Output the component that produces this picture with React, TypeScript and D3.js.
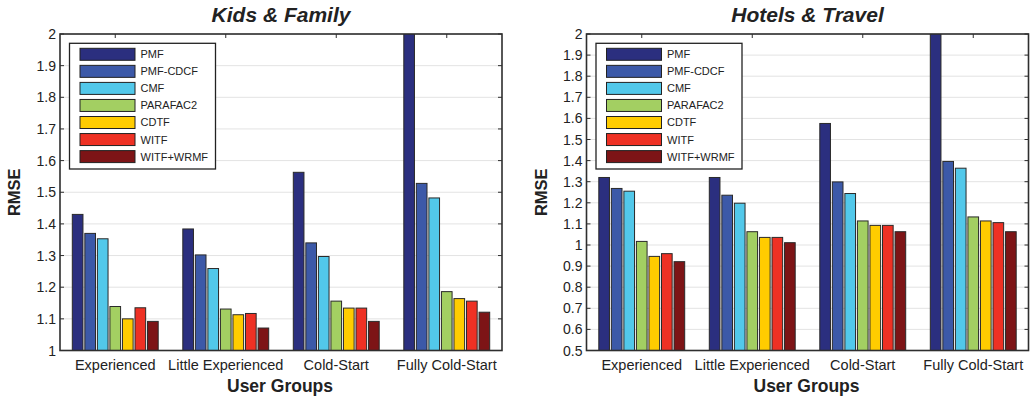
import React from "react";
import * as d3 from "d3";

const groups = ["Experienced", "Little Experienced", "Cold-Start", "Fully Cold-Start"];
const methods = ["PMF", "PMF-CDCF", "CMF", "PARAFAC2", "CDTF", "WITF", "WITF+WRMF"];
const methodColors = ["#2b2f7f", "#3c59a8", "#52c8ea", "#a3cf62", "#ffcc00", "#ee3124", "#7d1416"];

// Kids & Family (values per user group, in method order)
const kidsExperienced = [1.43, 1.37, 1.353, 1.139, 1.1, 1.135, 1.092];
const kidsLittleExperienced = [1.384, 1.302, 1.259, 1.131, 1.113, 1.117, 1.071];
const kidsColdStart = [1.563, 1.34, 1.297, 1.156, 1.134, 1.134, 1.092];
const kidsFullyColdStart = [2.2, 1.528, 1.482, 1.186, 1.164, 1.156, 1.121];

// Hotels & Travel
const hotelsExperienced = [1.32, 1.268, 1.255, 1.017, 0.946, 0.959, 0.921];
const hotelsLittleExperienced = [1.32, 1.236, 1.198, 1.063, 1.036, 1.036, 1.011];
const hotelsColdStart = [1.576, 1.299, 1.244, 1.114, 1.093, 1.093, 1.063];
const hotelsFullyColdStart = [2.2, 1.396, 1.364, 1.133, 1.114, 1.106, 1.063];

const kidsTicks = ["1", "1.1", "1.2", "1.3", "1.4", "1.5", "1.6", "1.7", "1.8", "1.9", "2"];
const hotelsTicks = ["0.5", "0.6", "0.7", "0.8", "0.9", "1", "1.1", "1.2", "1.3", "1.4", "1.5", "1.6", "1.7", "1.8", "1.9", "2"];

const FONT = "'Liberation Sans', Arial, Helvetica, sans-serif";

type ChartProps = {
  id: string;
  title: string;
  left: number;
  yMin: number;
  ticks: string[];
  data: number[][];
};

function Chart({ id, title, left, yMin, ticks, data }: ChartProps) {
  const top = 34;
  const bottom = 350.5;
  const width = 442;
  const right = left + width;
  const x0 = d3.scaleBand<string>().domain(groups).range([left, right]).paddingInner(0.2).paddingOuter(0.1);
  const x1 = d3.scaleBand<string>().domain(methods).range([0, x0.bandwidth()]).paddingInner(0.15).paddingOuter(0.1);
  const y = d3.scaleLinear().domain([yMin, 2]).range([bottom, top]);
  const cx = (left + right) / 2;
  const legX = left + 9.5;
  const legY = 43.3;
  const legW = 146;
  const legH = 125.7;
  const rowH = 17.05;
  return (
    <g>
      <defs>
        <clipPath id={id}>
          <rect x={left} y={top} width={width} height={bottom - top} />
        </clipPath>
      </defs>
      <rect x={left} y={top} width={width} height={bottom - top} fill="#fff" />
      {ticks.map((t) => (
        <line key={"g" + t} x1={left} x2={right} y1={y(+t)} y2={y(+t)} stroke="#e3e3e3" strokeWidth={1} />
      ))}
      <g clipPath={`url(#${id})`}>
        {groups.map((g, gi) =>
          methods.map((m, mi) => (
            <rect
              key={g + m}
              x={(x0(g) as number) + (x1(m) as number)}
              y={y(data[gi][mi])}
              width={x1.bandwidth()}
              height={y(yMin) - y(data[gi][mi]) + 2}
              fill={methodColors[mi]}
              stroke="#2a2a2a"
              strokeWidth={1}
            />
          ))
        )}
      </g>
      {/* frame */}
      <rect x={left} y={top} width={width} height={bottom - top} fill="none" stroke="#2e2e2e" strokeWidth={1.6} />
      {/* y ticks */}
      {ticks.map((t) => (
        <g key={"t" + t}>
          <line x1={left} x2={left + 4} y1={y(+t)} y2={y(+t)} stroke="#2e2e2e" strokeWidth={1} />
          <line x1={right - 4} x2={right} y1={y(+t)} y2={y(+t)} stroke="#2e2e2e" strokeWidth={1} />
          <text x={left - 4} y={y(+t)} dy="0.36em" textAnchor="end" fontFamily={FONT} fontSize={14} fill="#222">
            {t}
          </text>
        </g>
      ))}
      {/* x ticks */}
      {groups.map((g) => {
        const gx = (x0(g) as number) + x0.bandwidth() / 2;
        return (
          <g key={"x" + g}>
            <line x1={gx} x2={gx} y1={top} y2={top + 4} stroke="#2e2e2e" strokeWidth={1} />
            <text x={gx} y={369.5} textAnchor="middle" fontFamily={FONT} fontSize={14.5} fill="#222">
              {g}
            </text>
          </g>
        );
      })}
      {/* legend */}
      <rect x={legX} y={legY} width={legW} height={legH} fill="#fff" stroke="#222" strokeWidth={1.3} />
      {methods.map((m, i) => {
        const cy = legY + 11 + i * rowH;
        return (
          <g key={"l" + m}>
            <rect x={legX + 10.5} y={cy - 6} width={55} height={12} fill={methodColors[i]} stroke="#222" strokeWidth={1} />
            <text x={legX + 71} y={cy} dy="0.36em" fontFamily={FONT} fontSize={11} fill="#222">
              {m}
            </text>
          </g>
        );
      })}
      {/* titles */}
      <text x={cx} y={22} textAnchor="middle" fontFamily={FONT} fontSize={21} fontWeight="bold" fontStyle="italic" fill="#222">
        {title}
      </text>
      <text x={cx - 1} y={392} textAnchor="middle" fontFamily={FONT} fontSize={17.5} fontWeight="bold" fill="#222">
        User Groups
      </text>
      <text
        transform={`translate(${left - 40},${(top + bottom) / 2}) rotate(-90)`}
        textAnchor="middle"
        fontFamily={FONT}
        fontSize={16.5}
        fontWeight="bold"
        fill="#222"
      >
        RMSE
      </text>
    </g>
  );
}

export default function App() {
  return (
    <svg
      width={1033}
      height={400}
      style={{ position: "absolute", left: 0, top: 0, background: "#fff" }}
    >
      <rect width={1033} height={400} fill="#fff" />
      <Chart
        id="clipKids"
        title="Kids & Family"
        left={60}
        yMin={1}
        ticks={kidsTicks}
        data={[kidsExperienced, kidsLittleExperienced, kidsColdStart, kidsFullyColdStart]}
      />
      <Chart
        id="clipHotels"
        title="Hotels & Travel"
        left={586.5}
        yMin={0.5}
        ticks={hotelsTicks}
        data={[hotelsExperienced, hotelsLittleExperienced, hotelsColdStart, hotelsFullyColdStart]}
      />
    </svg>
  );
}
